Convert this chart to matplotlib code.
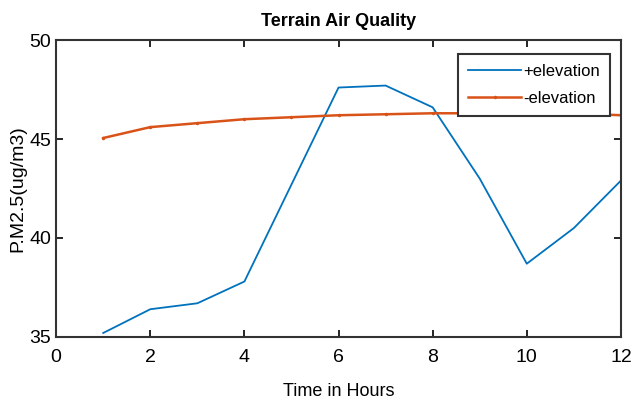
import matplotlib.pyplot as plt

hours = [1, 2, 3, 4, 5, 6, 7, 8, 9, 10, 11, 12]
plus_elev = [35.2, 36.4, 36.7, 37.8, 42.7, 47.6, 47.7, 46.6, 43.0, 38.7, 40.5, 42.9]
minus_elev = [45.05, 45.6, 45.8, 46.0, 46.1, 46.2, 46.25, 46.3, 46.3, 46.3, 46.3, 46.2]

plt.rcParams['font.family'] = ['Liberation Sans Narrow', 'Liberation Sans', 'DejaVu Sans']

fig = plt.figure(figsize=(6.31, 4.17), dpi=100)
ax = fig.add_axes([0.089, 0.192, 0.895, 0.712])

ax.plot(hours, plus_elev, color='#0072bd', lw=1.3, label='+elevation')
ax.plot(hours, minus_elev, color='#d95319', lw=1.8, marker='.', markersize=3, label='-elevation')

ax.set_xlim(0, 12)
ax.set_ylim(35, 50)
ax.set_xticks(range(0, 13, 2))
ax.set_yticks([35, 40, 45, 50])
ax.tick_params(direction='in', top=True, right=True, labelsize=14, length=5, width=1.2)
ax.tick_params(axis='x', pad=9)
for s in ax.spines.values():
    s.set_linewidth(1.5)
    s.set_color('#333333')

ax.set_title('Terrain Air Quality', fontsize=13, fontweight='bold', pad=10)
ax.set_xlabel('Time in Hours', fontsize=13, labelpad=12)
ax.set_ylabel('P.M2.5(ug/m3)', fontsize=14, labelpad=2)

leg = ax.legend(loc='upper right', bbox_to_anchor=(0.98, 0.953), borderaxespad=0, fontsize=12,
                fancybox=False, framealpha=1, edgecolor='#333333',
                handlelength=3.2, handletextpad=0.1, borderpad=0.6, labelspacing=0.7)
leg.get_frame().set_linewidth(1.5)

fig.savefig('out.png', dpi=100)
